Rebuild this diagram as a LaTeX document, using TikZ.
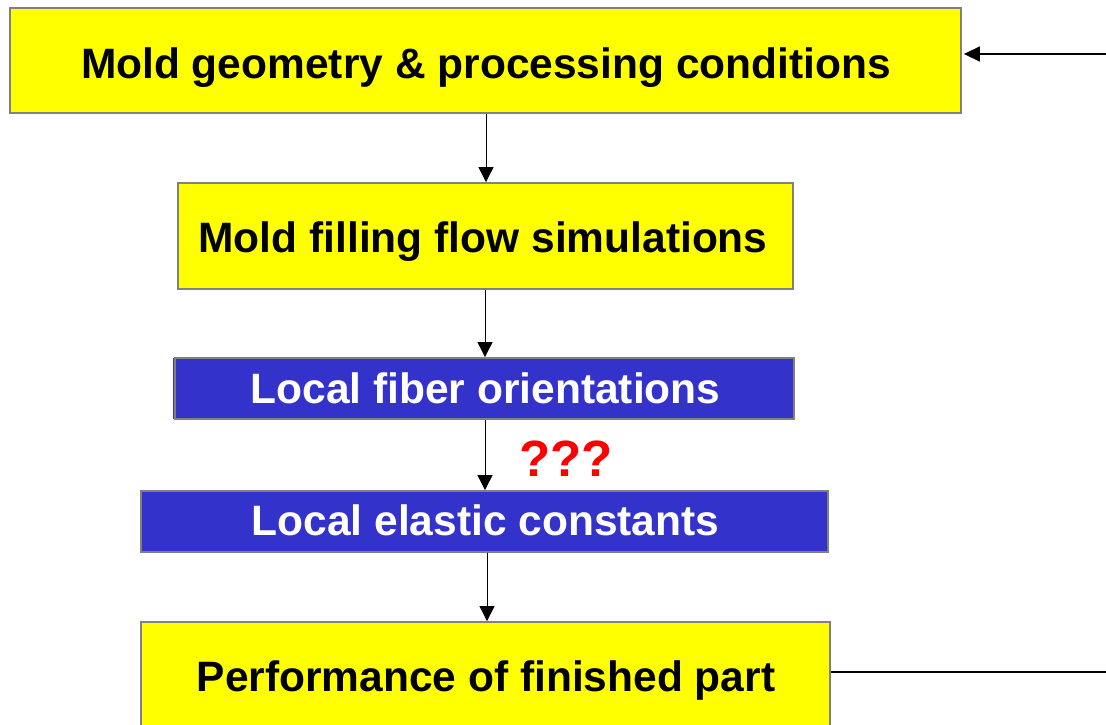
\documentclass[tikz,border=0pt]{standalone}
\usepackage{fontspec}
\setmainfont{Liberation Sans}
\usetikzlibrary{arrows.meta}
\definecolor{boxyellow}{RGB}{255,255,0}
\definecolor{boxblue}{RGB}{51,51,204}
\definecolor{boxgray}{RGB}{128,128,128}
\definecolor{qred}{RGB}{255,0,0}
\begin{document}
\begin{tikzpicture}[x=1pt,y=-1pt,
  ybox/.style={draw=boxgray,line width=1.8pt,fill=boxyellow,inner sep=0pt},
  bbox/.style={draw=boxgray,line width=1.8pt,fill=boxblue,inner sep=0pt},
  btext/.style={anchor=base,inner sep=0pt,font=\fontsize{42.5}{50}\selectfont\bfseries,text=black},
  wtext/.style={btext,text=white},
  flow/.style={draw=black,line width=0.9pt,-{Triangle[length=15pt,width=15pt]}},
  hline/.style={draw=black,line width=1.6pt}]
\useasboundingbox (0,0) rectangle (1106,725);
\clip (0,0) rectangle (1106,725);
% boxes
\node[ybox,minimum width=951pt,minimum height=105pt] (geo) at (485.5,60.5) {};
\node[ybox,minimum width=615pt,minimum height=106pt] (fill) at (485.5,236) {};
\fill[boxblue] (173,358) rectangle (180,419);
\node[bbox,minimum width=619pt,minimum height=61pt] (orient) at (484.5,388.5) {};
\node[bbox,minimum width=687pt,minimum height=61pt] (elast) at (484.5,521.5) {};
\node[ybox,minimum width=689pt,minimum height=120pt] (perf) at (485.5,682) {};
% texts
\node[btext] (geoT) at (486,78) {Mold geometry \& processing conditions};
\node[btext] (fillT) at (483,252) {Mold filling flow simulations};
\node[wtext] (orientT) at (485.5,403) {Local fiber orientations};
\node[wtext] (elastT) at (485.5,535) {Local elastic constants};
\node[btext] (perfT) at (486,691) {Performance of finished part};
\node[anchor=base,font=\fontsize{51}{58}\selectfont\bfseries,text=qred,inner sep=0pt] (q) at (566,476) {???};
% connectors
\draw[flow] (geo.south -| 486,0) -- (fill.north -| 486,0);
\draw[flow] (fill.south -| 485,0) -- (orient.north -| 485,0);
\draw[flow] (orient.south -| 485,0) -- (elast.north -| 485,0);
\draw[flow] (elast.south -| 487,0) -- (perf.north -| 487,0);
\coordinate (inR) at (1106,54);
\coordinate (outR) at (1106,672);
\draw[hline,-{Triangle[length=16pt,width=15pt]},shorten >=2pt] (inR) -- (inR -| geo.east);
\draw[hline] (perf.east |- outR) -- (outR);
\end{tikzpicture}
\end{document}
